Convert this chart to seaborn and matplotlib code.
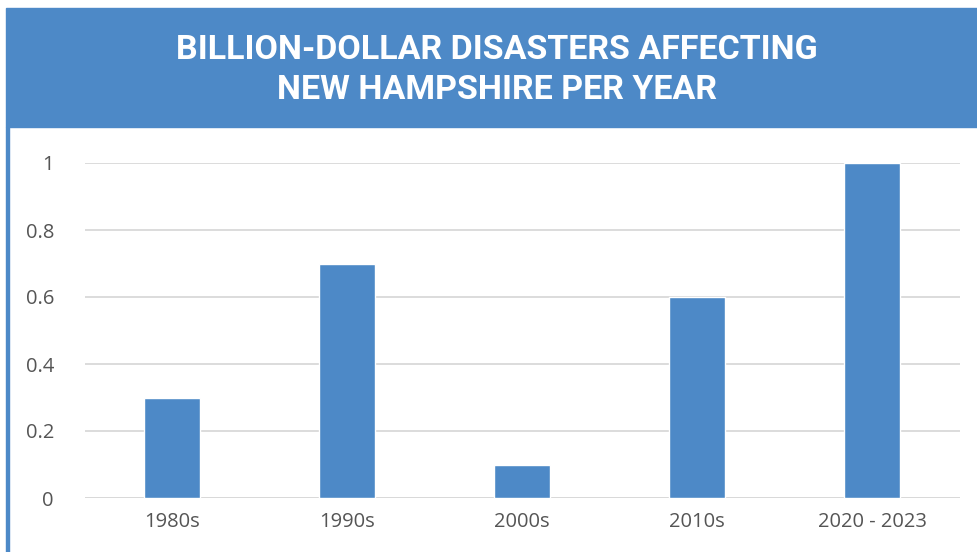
import matplotlib
matplotlib.use("Agg")
import matplotlib.pyplot as plt
from matplotlib.patches import Rectangle
from matplotlib import font_manager
import seaborn as sns
import pandas as pd

decades = ["1980s", "1990s", "2000s", "2010s", "2020 - 2023"]
disasters_per_year = [0.3, 0.7, 0.1, 0.6, 1.0]
y_ticks = [0, 0.2, 0.4, 0.6, 0.8, 1]
y_tick_labels = ["0", "0.2", "0.4", "0.6", "0.8", "1"]
title_lines = "BILLION-DOLLAR DISASTERS AFFECTING\nNEW HAMPSHIRE PER YEAR"

BLUE = "#4d89c7"
GRID = "#d9d9d9"
TEXT = "#555555"

sns.set_theme(style="white")
plt.rcParams["font.family"] = ["Open Sans", "DejaVu Sans"]

names = {f.name for f in font_manager.fontManager.ttflist}
title_family = "Liberation Sans Narrow" if "Liberation Sans Narrow" in names else "Roboto"
title_size = 27 if title_family == "Liberation Sans Narrow" else 24.5

df = pd.DataFrame({"decade": decades, "rate": disasters_per_year})

W, H = 977, 552
fig = plt.figure(figsize=(W / 100, H / 100), dpi=100)

# header band and left frame line
fig.patches.append(Rectangle((6 / W, 1 - 127 / H), 1 - 6 / W, 119 / H,
                             transform=fig.transFigure, color=BLUE, zorder=0))
fig.patches.append(Rectangle((6 / W, 0), 2.5 / W, 1 - 127 / H,
                             transform=fig.transFigure, color=BLUE, zorder=0))
fig.text(497 / W, 1 - 70 / H, title_lines, ha="center", va="center",
         color="white", fontsize=title_size, fontweight="bold", family=title_family,
         linespacing=1.3)

ax = fig.add_axes([84.5 / W, 1 - 498 / H, 875 / W, 335 / H])
sns.barplot(data=df, x="decade", y="rate", color=BLUE, saturation=1,
            width=0.315, ax=ax, zorder=3)
ax.set_ylim(0, 1)
ax.set_xlim(-0.5, 4.5)
ax.set_yticks(y_ticks)
ax.set_yticklabels(y_tick_labels)
ax.yaxis.grid(True, color=GRID, linewidth=1.3, zorder=0)
ax.set_axisbelow(True)
for s in ax.spines.values():
    s.set_visible(False)
ax.axhline(0, color=GRID, linewidth=1.3, zorder=1)
ax.set_xlabel("")
ax.set_ylabel("")
ax.tick_params(axis="both", length=0, labelsize=14.5, colors=TEXT)
ax.tick_params(axis="y", pad=22)
ax.tick_params(axis="x", pad=10)
for p in ax.patches:
    p.set_clip_on(False)

fig.savefig("out.png", dpi=100)
